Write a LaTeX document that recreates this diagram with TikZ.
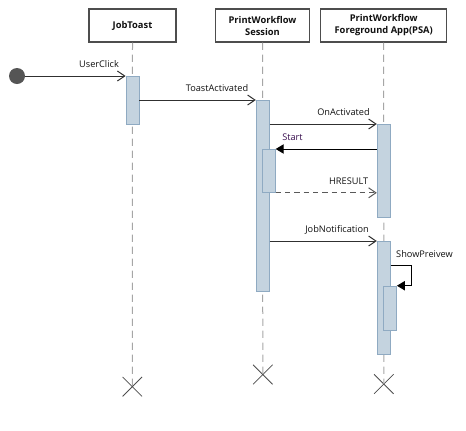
\documentclass[tikz,border=0pt]{standalone}
\usepackage{fontspec}
\setmainfont{Open Sans}
\usetikzlibrary{arrows.meta,shapes.misc}
\definecolor{boxline}{HTML}{4D4D4D}
\definecolor{lifeline}{HTML}{A6A6A6}
\definecolor{actfill}{HTML}{C4D3DF}
\definecolor{actline}{HTML}{8FAAC2}
\definecolor{msgline}{HTML}{303030}
\definecolor{txt}{HTML}{111111}
\definecolor{startcol}{HTML}{3A1050}
\definecolor{dot}{HTML}{555555}
\tikzset{
  header/.style={draw=boxline, line width=0.9pt, fill=white, minimum height=24.75pt,
    align=center, inner sep=0pt, text=txt, font=\fontsize{7}{9}\selectfont\bfseries},
  life/.style={draw=lifeline, line width=0.75pt, dash pattern=on 5.5pt off 3.5pt},
  act/.style={draw=actline, line width=0.6pt, fill=actfill, minimum width=9.75pt,
    inner sep=0pt, anchor=north},
  msg/.style={draw=msgline, line width=0.75pt, -{Straight Barb[length=5.5pt,width=7.5pt]}},
  ret/.style={msg, dash pattern=on 4pt off 3pt, draw=msgline!80},
  sync/.style={draw=black, line width=0.75pt, -{Triangle[length=6pt,width=7pt]}},
  lbl/.style={font=\fontsize{6.9}{8}\selectfont, text=txt, inner sep=0pt},
  endx/.style={draw=boxline, line width=0.6pt, cross out, minimum size=14pt, inner sep=0pt},
}
\begin{document}
\begin{tikzpicture}[x=0.75pt,y=-0.75pt]
\useasboundingbox (0,0) rectangle (466,430);
% headers
\node[header, minimum width=65.25pt] (hJ) at (132.5,25.5) {JobToast};
\node[header, minimum width=70.5pt] (hS) at (262.5,25.5) {PrintWorkflow\\Session};
\node[header, minimum width=94.5pt] (hP) at (383.7,25.5) {PrintWorkflow\\Foreground App(PSA)};
% destruction marks
\node[endx] (xJ) at (132.3,386.7) {};
\node[endx] (xS) at (262.8,374.5) {};
\node[endx] (xP) at (383.8,384) {};
% lifelines
\draw[life] (hJ.south) -- (xJ.center);
\draw[life] (hS.south) -- (xS.center);
\draw[life] (hP.south) -- (xP.center);
% activations
\node[act, minimum height=36pt] (aJ) at (132.5,76) {};
\node[act, minimum height=143.25pt] (aS) at (262.7,100) {};
\node[act, minimum height=32.25pt] (aS2) at (268.8,149) {};
\node[act, minimum height=69.75pt] (aP1) at (383.7,124) {};
\node[act, minimum height=84.75pt] (aP2) at (383.7,241) {};
\node[act, minimum height=33.4pt] (aP3) at (390,285.7) {};
% initial
\node[circle, fill=dot, minimum size=12pt, inner sep=0pt] (init) at (17,76) {};
% messages
\draw[msg] (init.east) -- (aJ.north west);
\node[lbl] (lUC) at (99,64) {UserClick};
\draw[msg] (aJ.east |- aS.north) -- (aS.north west);
\node[lbl] (lTA) at (217,88.5) {ToastActivated};
\draw[msg] (aS.east |- aP1.north) -- (aP1.north west);
\node[lbl] (lOA) at (343.5,112.5) {OnActivated};
\draw[sync] (aP1.west |- aS2.north) -- (aS2.north east);
\node[lbl, text=startcol] (lST) at (292.5,137) {Start};
\draw[ret] (aS2.south east) -- (aP1.west |- aS2.south);
\node[lbl] (lHR) at (348.7,181.5) {HRESULT};
\draw[msg] (aS.east |- aP2.north) -- (aP2.north west);
\node[lbl] (lJN) at (337,230) {JobNotification};
\coordinate (sp) at (411.7,265);
\draw[sync] (aP2.east |- sp) -- (sp) -- (sp |- aP3.north) -- (aP3.north east);
\node[lbl] (lSP) at (424.5,254) {ShowPreivew};
\end{tikzpicture}
\end{document}
